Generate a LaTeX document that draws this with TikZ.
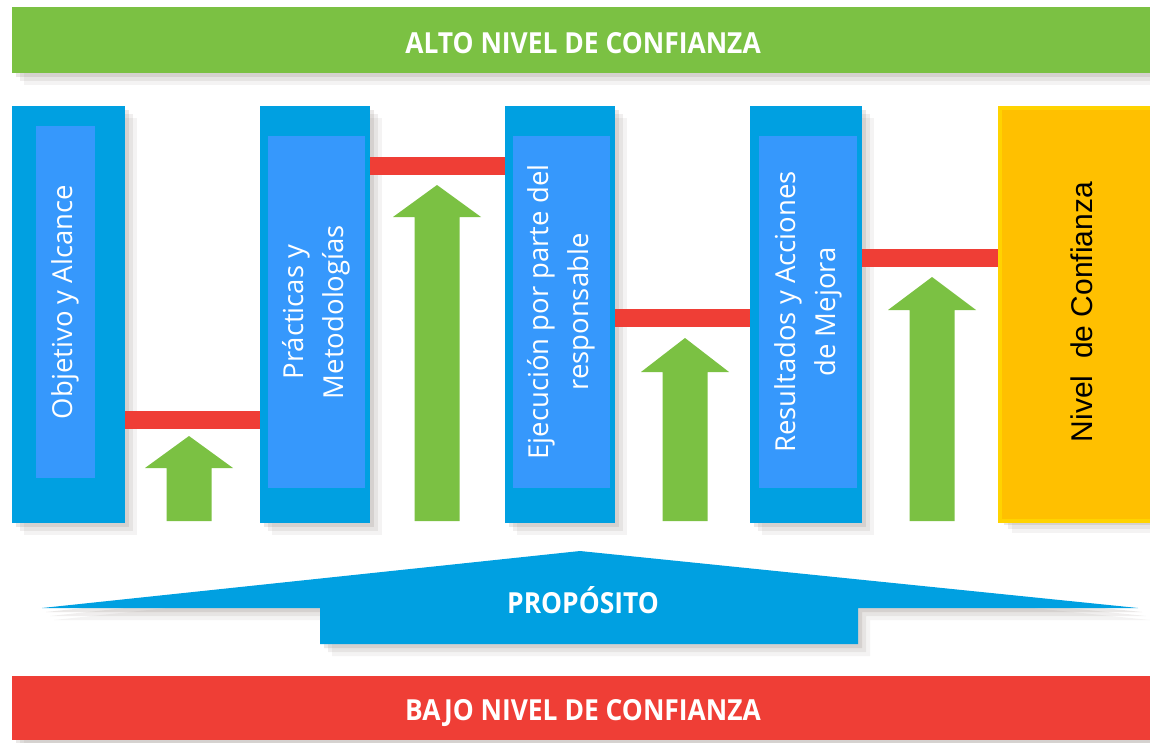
\documentclass[tikz,border=0pt]{standalone}
\usepackage{fontspec}
\setmainfont{Open Sans}
\newfontfamily\headfont[FakeStretch=0.91]{Open Sans}
\newfontfamily\arialfont{Liberation Sans}
\usetikzlibrary{shadows}
\definecolor{cgreen}{HTML}{7BC143}
\definecolor{cblue}{HTML}{00A0E1}
\definecolor{cinner}{HTML}{3698FC}
\definecolor{cred}{HTML}{EF3E36}
\definecolor{cyellow}{HTML}{FFC000}
\definecolor{cyelline}{HTML}{FFD300}
\definecolor{cshadow}{HTML}{6E6259}
\tikzset{
  softshadow/.style={
    drop shadow={shadow xshift=4pt,shadow yshift=-4pt,fill=cshadow,opacity=.14},
    drop shadow={shadow xshift=8pt,shadow yshift=-8pt,fill=cshadow,opacity=.10},
    drop shadow={shadow xshift=12pt,shadow yshift=-12pt,fill=cshadow,opacity=.07}},
  colbox/.style={fill=cblue,inner sep=0pt,minimum height=417pt,softshadow},
  innerbox/.style={fill=cinner,inner sep=0pt,rotate=90,text=white,align=center,
    font=\fontsize{27.5}{40}\selectfont},
  band/.style={inner sep=0pt,minimum width=1148pt,softshadow},
  headtext/.style={text=white,inner sep=0pt,anchor=base,font=\headfont\bfseries\fontsize{29}{34}\selectfont},
  redbar/.style={draw=cred,line width=18pt},
  uparrow/.style={fill=cgreen},
}
\newcommand\greenarrow[3]{% center x, tip y, head base y
  \fill[uparrow] (#1-22.5,521) -- (#1-22.5,#3) -- (#1-44,#3) -- (#1,#2)
    -- (#1+44,#3) -- (#1+22.5,#3) -- (#1+22.5,521) -- cycle;}
\begin{document}
\begin{tikzpicture}[x=1pt,y=-1pt]
\fill[white] (0,0) rectangle (1150,742);
\useasboundingbox (0,0) rectangle (1150,742);
% top band
\node[band,fill=cgreen,minimum height=66pt] (top) at (586,40) {};
\node[headtext] (toptext) at (583,53) {ALTO NIVEL DE CONFIANZA};
% columns
\node[colbox,minimum width=113pt] (c1) at (68.5,314.5) {};
\node[colbox,minimum width=110pt] (c2) at (315,314.5) {};
\node[colbox,minimum width=110pt] (c3) at (560,314.5) {};
\node[colbox,minimum width=112pt] (c4) at (806,314.5) {};
\node[fill=cyellow,draw=cyelline,line width=4pt,inner sep=0pt,minimum width=162pt,
  minimum height=413pt,softshadow] (ny) at (1081,314.5) {};
% inner boxes with text
\node[innerbox,minimum width=352pt,minimum height=59pt] (i1) at (65.5,302) {Objetivo y Alcance};
\node[innerbox,minimum width=352pt,minimum height=97pt] (i2) at (316.5,312) {Prácticas y\\Metodologías};
\node[innerbox,minimum width=352pt,minimum height=97pt] (i3) at (561.5,312) {Ejecución por parte del\\responsable};
\node[innerbox,minimum width=352pt,minimum height=98pt] (i4) at (808,312) {Resultados y Acciones\\de Mejora};
\node[rotate=90,inner sep=0pt,font=\arialfont\fontsize{30}{36}\selectfont] (nytext) at (1082,312) {Nivel\ \ de Confianza};
% red connectors
\draw[redbar] ([yshift=-105.5pt]c1.east) -- ([yshift=-105.5pt]c2.west);
\draw[redbar] ([yshift=149pt]c2.east) -- ([yshift=149pt]c3.west);
\draw[redbar] ([yshift=-3.5pt]c3.east) -- ([yshift=-3.5pt]c4.west);
\draw[redbar] ([yshift=57pt]c4.east) -- ([yshift=57pt]ny.west);
% green arrows
\greenarrow{189}{436}{468}
\greenarrow{437}{185}{217}
\greenarrow{685}{338}{372}
\greenarrow{932}{277}{310}
% purpose
\fill[cblue,softshadow] (42,608) -- (580,551) -- (1138,608) -- (858,608) -- (858,644)
  -- (320,644) -- (320,608) -- cycle;
\node[headtext] (prop) at (583,613) {PROPÓSITO};
% bottom band
\node[band,fill=cred,minimum height=64pt] (bottom) at (586,708) {};
\node[headtext] (bottomtext) at (583,720) {BAJO NIVEL DE CONFIANZA};
\end{tikzpicture}
\end{document}
